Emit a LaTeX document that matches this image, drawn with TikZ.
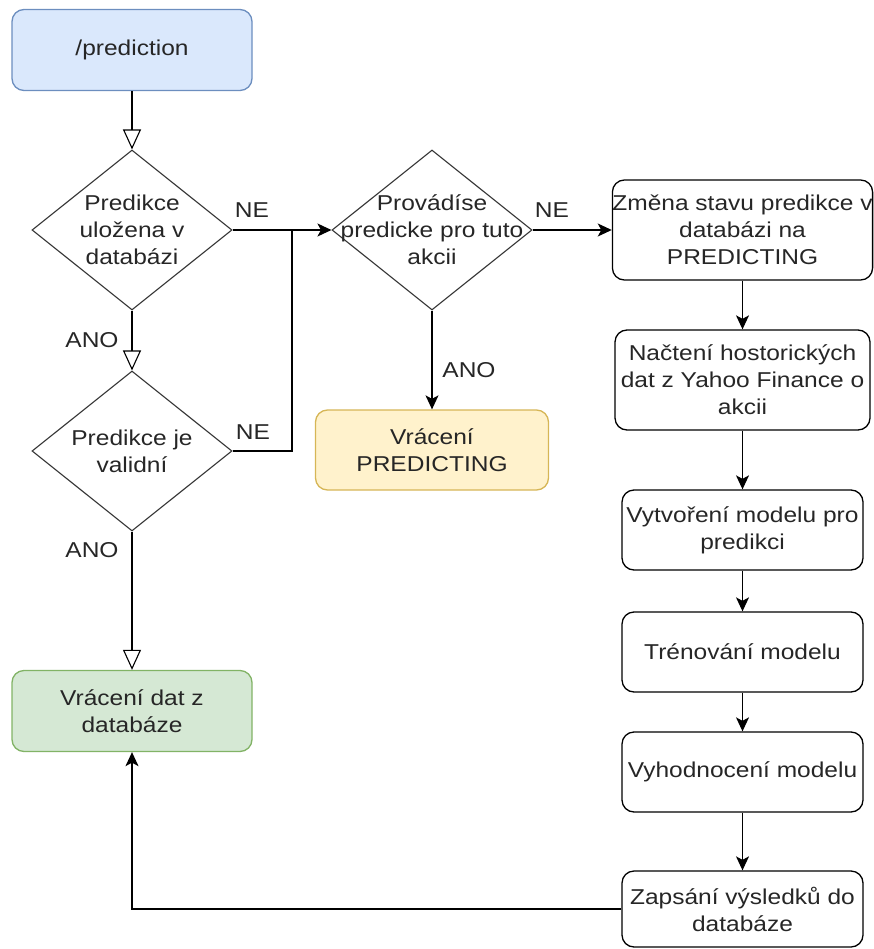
\documentclass[tikz,border=0pt]{standalone}
\usepackage{fontspec}
\setmainfont{Liberation Sans}[FakeStretch=1.14]
\usetikzlibrary{shapes.geometric,arrows.meta}
\definecolor{inkc}{HTML}{262626}
\definecolor{bluefill}{HTML}{DAE8FC}\definecolor{bluedraw}{HTML}{6C8EBF}
\definecolor{greenfill}{HTML}{D5E8D4}\definecolor{greendraw}{HTML}{82B366}
\definecolor{yellowfill}{HTML}{FFF2CC}\definecolor{yellowdraw}{HTML}{D6B656}
\begin{document}
\begin{tikzpicture}[x=1pt,y=-1pt,
  every node/.style={font=\fontsize{21.5}{27}\selectfont, text=inkc},
  box/.style={draw=black, line width=1.3pt, rounded corners=12pt, align=center, inner sep=0pt},
  decision/.style={draw=black!80, line width=1.1pt, shape=diamond, inner sep=0pt, minimum width=200pt, minimum height=160pt},
  txt/.style={align=center, inner sep=0pt},
  lbl/.style={inner sep=0pt},
  line/.style={draw=black, line width=1.3pt},
  flow/.style={line, -{Stealth[length=14pt,width=13pt,inset=3.5pt]}},
  hollow/.style={line, -{Triangle[open,length=20pt,width=18pt,line width=1.1pt]}}]
\useasboundingbox (0,0) rectangle (873,949);

% left column
\node[box, draw=bluedraw, fill=bluefill, minimum width=240pt, minimum height=81pt] (start) at (132,50) {/prediction};
\node[decision] (d1) at (132,230) {};
\node[txt] (d1t) at (132,230) {Predikce\\uložena v\\databázi};
\node[decision] (d3) at (132,451) {};
\node[txt] (d3t) at (132,451) {Predikce je\\validní};
\node[box, draw=greendraw, fill=greenfill, minimum width=240pt, minimum height=81pt] (ret) at (132,711) {Vrácení dat z\\databáze};

% middle column
\node[decision] (d2) at (432,230) {};
\node[txt] (d2t) at (432,230) {Provádíse\\predicke pro tuto\\akcii};
\node[box, draw=yellowdraw, fill=yellowfill, minimum width=233pt, minimum height=80pt] (busy) at (432,450) {Vrácení\\PREDICTING};

% right column
\node[box, minimum width=255pt, minimum height=100pt] (b1) at (742.5,230) {Změna stavu predikce v\\databázi na\\PREDICTING};
\node[box, minimum width=255pt, minimum height=100pt] (b2) at (742.5,380) {Načtení hostorických\\dat z Yahoo Finance o\\akcii};
\node[box, minimum width=241pt, minimum height=80pt] (b3) at (742.5,530) {Vytvoření modelu pro\\predikci};
\node[box, minimum width=241pt, minimum height=80pt] (b4) at (742.5,652) {Trénování modelu};
\node[box, minimum width=241pt, minimum height=80pt] (b5) at (742.5,772) {Vyhodnocení modelu};
\node[box, minimum width=241pt, minimum height=76pt] (b6) at (742.5,909) {Zapsání výsledků do\\databáze};

% connectors
\coordinate (jn) at (292,230);
\draw[hollow] (start.south) -- (d1.north);
\draw[hollow] (d1.south) -- (d3.north);
\draw[hollow] (d3.south) -- (ret.north);
\draw[flow] (d1.east) -- (d2.west);
\draw[line] (d3.east) -| (jn);
\draw[flow] (d2.east) -- (b1.west);
\draw[flow] (d2.south) -- (busy.north);
\draw[flow] (b1.south) -- (b2.north);
\draw[flow] (b2.south) -- (b3.north);
\draw[flow] (b3.south) -- (b4.north);
\draw[flow] (b4.south) -- (b5.north);
\draw[flow] (b5.south) -- (b6.north);
\draw[flow] (b6.west) -| (ret.south);

% branch labels
\node[lbl] (ne1) at (252,210) {NE};
\node[lbl] (ne2) at (253,432) {NE};
\node[lbl] (ne3) at (552,210) {NE};
\node[lbl] (ano1) at (92,340) {ANO};
\node[lbl] (ano2) at (92,550) {ANO};
\node[lbl] (ano3) at (469,370) {ANO};
\end{tikzpicture}
\end{document}
